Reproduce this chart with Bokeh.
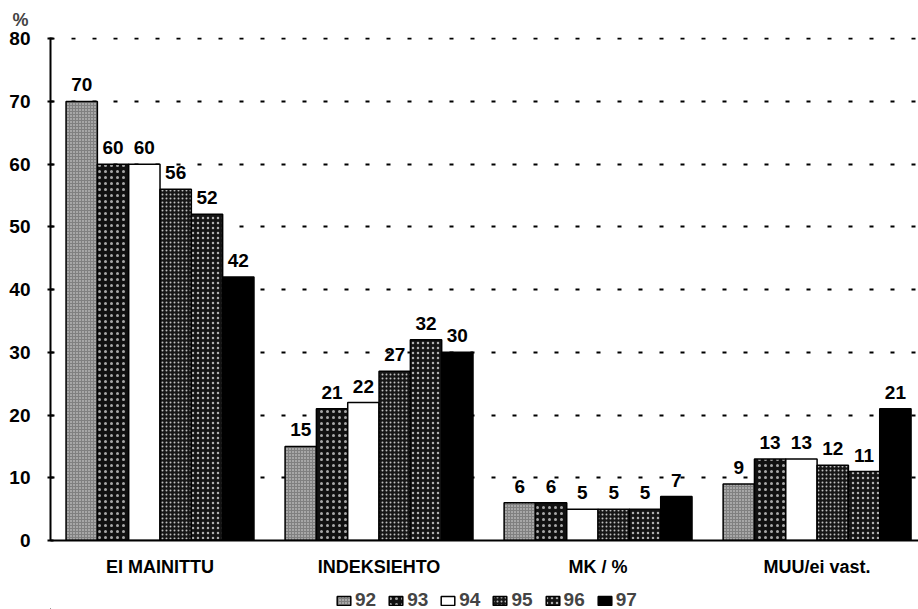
from bokeh.plotting import figure
from bokeh.layouts import column
from bokeh.models import ColumnDataSource, FixedTicker, Legend, LegendItem
from bokeh.embed import file_html
from bokeh.resources import INLINE
from bokeh.core.properties import value

# Survey shares (%) by answer category, one series per year
categories = ["EI MAINITTU", "INDEKSIEHTO", "MK / %", "MUU/ei vast."]
years = ["92", "93", "94", "95", "96", "97"]
v92 = [70, 15, 6, 9]
v93 = [60, 21, 6, 13]
v94 = [60, 22, 5, 13]
v95 = [56, 27, 5, 12]
v96 = [52, 32, 5, 11]
v97 = [42, 30, 7, 21]
series = [v92, v93, v94, v95, v96, v97]
y_ticks = [0, 10, 20, 30, 40, 50, 60, 70, 80]

# stippled greyscale fills for the six years
styles = [
    dict(fill_color="#808080", hatch_pattern=".", hatch_color="#e0e0e0", hatch_scale=3, hatch_weight=1),
    dict(fill_color="#111111", hatch_pattern=".", hatch_color="#a8a8a8", hatch_scale=6, hatch_weight=1),
    dict(fill_color="#ffffff", hatch_pattern=" ", hatch_color="#ffffff", hatch_scale=6, hatch_weight=1),
    dict(fill_color="#161616", hatch_pattern=".", hatch_color="#c0c0c0", hatch_scale=4, hatch_weight=1),
    dict(fill_color="#141414", hatch_pattern=".", hatch_color="#b0b0b0", hatch_scale=5, hatch_weight=1),
    dict(fill_color="#000000", hatch_pattern=" ", hatch_color="#000000", hatch_scale=6, hatch_weight=1),
]

FONT = "Liberation Sans"
group_pad = 0.071
bar_w = (1 - 2 * group_pad) / len(years)

p = figure(width=918, height=579, x_range=(0, 3.963), y_range=(0, 80.2),
           output_backend="svg", toolbar_location=None,
           min_border_left=50, min_border_right=0, min_border_top=36, min_border_bottom=39)
p.outline_line_color = None
p.background_fill_color = "white"
p.border_fill_color = "white"

p.title.text = "%"
p.title.align = "left"
p.title.offset = -38
p.title.text_font = FONT
p.title.text_font_size = "18px"
p.title.text_font_style = "bold"
p.title.standoff = 15

for j, (yr, vals, st) in enumerate(zip(years, series, styles)):
    xs = [i + group_pad + (j + 0.5) * bar_w for i in range(len(categories))]
    src = ColumnDataSource(dict(x=xs, top=vals, label=[str(v) for v in vals]))
    p.vbar(x="x", top="top", bottom=0, width=bar_w, source=src,
           line_color="black", line_width=1.5, **st)
    p.text(x="x", y="top", text="label", source=src, text_align="center",
           text_baseline="bottom", y_offset=-10, text_font=value(FONT),
           text_font_size="19px", text_font_style="bold", text_color="black")

# dashed horizontal grid
p.xgrid.grid_line_color = None
p.ygrid.ticker = FixedTicker(ticks=y_ticks[1:])
p.ygrid.grid_line_color = "black"
p.ygrid.grid_line_width = 2
p.ygrid.grid_line_dash = "4 17"
p.ygrid.level = "underlay"

# axes
ya = p.yaxis[0]
ya.ticker = FixedTicker(ticks=y_ticks)
ya.axis_line_width = 2
ya.major_tick_out = 3
ya.major_tick_in = 3
ya.major_tick_line_width = 2
ya.minor_tick_line_color = None
ya.major_label_standoff = 17
ya.major_label_text_font = FONT
ya.major_label_text_font_size = "19px"
ya.major_label_text_font_style = "bold"
ya.major_label_text_color = "black"

xa = p.xaxis[0]
xa.ticker = FixedTicker(ticks=[i + 0.5 for i in range(len(categories))])
xa.major_label_overrides = {i + 0.5: c for i, c in enumerate(categories)}
xa.axis_line_width = 2
xa.major_tick_out = 0
xa.major_tick_in = 0
xa.minor_tick_line_color = None
xa.major_label_standoff = 16
xa.major_label_text_font = FONT
xa.major_label_text_font_size = "18px"
xa.major_label_text_font_style = "bold"
xa.major_label_text_color = "black"

# legend strip under the chart
lg = figure(width=918, height=30, x_range=(0, 1), y_range=(0, 1),
            output_backend="svg", toolbar_location=None,
            x_axis_location=None, y_axis_location=None,
            min_border_left=0, min_border_right=0, min_border_top=0, min_border_bottom=0)
lg.outline_line_color = None
lg.grid.visible = False
items = []
for yr, st in zip(years, styles):
    r = lg.vbar(x=[-5], top=[-5], bottom=-6, width=0.1, line_color="black", line_width=1.5, **st)
    items.append(LegendItem(label=yr, renderers=[r]))
legend = Legend(items=items, orientation="horizontal", location=(285, -2),
                glyph_width=17, glyph_height=11, label_standoff=3, spacing=11,
                padding=0, margin=0, border_line_color=None, background_fill_alpha=0,
                label_text_font=FONT, label_text_font_size="19px",
                label_text_font_style="bold", label_height=13)
lg.add_layout(legend)

open("out.html", "w").write(file_html(column(p, lg, spacing=0), INLINE))
